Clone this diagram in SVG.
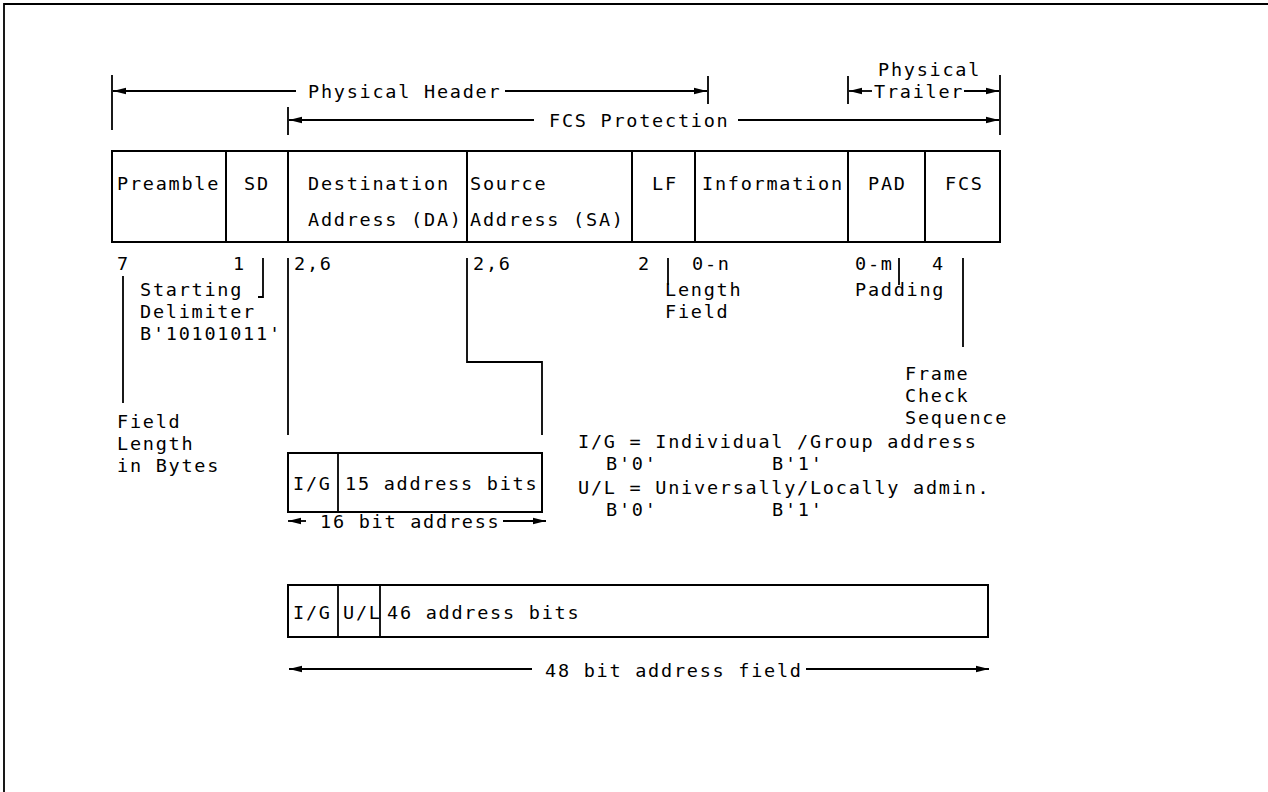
<svg xmlns="http://www.w3.org/2000/svg" width="1268" height="792" viewBox="0 0 1268 792">
<style>
.t{font-family:"DejaVu Sans Mono","Liberation Mono",monospace;font-size:18.5px;letter-spacing:1.75px;fill:#000}
.ln{stroke:#000;stroke-width:1.8;fill:none}
.bx{stroke:#000;stroke-width:2;fill:#fff}
.ar{stroke:#000;stroke-width:1.8;fill:none;marker-end:url(#ah)}
</style>
<defs>
<marker id="ah" markerUnits="userSpaceOnUse" markerWidth="14" markerHeight="8" refX="13" refY="4" orient="auto">
<path d="M0,0.8 L13,4 L0,7.2 z" fill="#000"/>
</marker>
</defs>
<rect width="1268" height="792" fill="#fff"/>
<path class="ln" d="M4,792 V4 H1268" stroke-width="2.2"/>

<g id="connectors">
<line class="ln" x1="112" y1="75" x2="112" y2="130"/>
<line class="ar" x1="296" y1="91" x2="113" y2="91"/>
<line class="ar" x1="505" y1="91" x2="707" y2="91"/>
<line class="ln" x1="708" y1="76" x2="708" y2="104"/>
<line class="ln" x1="288" y1="107" x2="288" y2="135"/>
<line class="ar" x1="534" y1="120" x2="289" y2="120"/>
<line class="ar" x1="738" y1="120" x2="999" y2="120"/>
<line class="ln" x1="848" y1="76" x2="848" y2="104"/>
<line class="ar" x1="872" y1="91" x2="849" y2="91"/>
<line class="ar" x1="964" y1="91" x2="999" y2="91"/>
<line class="ln" x1="1000" y1="75" x2="1000" y2="135"/>
<line class="ln" x1="123" y1="276" x2="123" y2="403"/>
<path class="ln" d="M263,258 V297 H258"/>
<line class="ln" x1="288" y1="258" x2="288" y2="435"/>
<path class="ln" d="M467,258 V362 H542 V435"/>
<line class="ln" x1="668" y1="258" x2="668" y2="285"/>
<line class="ln" x1="899" y1="258" x2="899" y2="285"/>
<line class="ln" x1="963" y1="258" x2="963" y2="347"/>
<line class="ar" x1="306" y1="521" x2="288" y2="521"/>
<line class="ar" x1="503" y1="521" x2="546" y2="521"/>
<line class="ar" x1="532" y1="669" x2="289" y2="669"/>
<line class="ar" x1="806" y1="669" x2="989" y2="669"/>
</g>

<g id="labels-top">
<text class="t" x="878" y="76">Physical</text>
<text class="t" x="308" y="98">Physical Header</text>
<text class="t" x="549" y="127">FCS Protection</text>
<text class="t" x="874" y="98">Trailer</text>
</g>

<g id="frame">
<g id="preamble"><rect class="bx" x="112" y="151" width="114" height="91"/><text class="t" x="117" y="190">Preamble</text></g>
<g id="sd"><rect class="bx" x="226" y="151" width="62" height="91"/><text class="t" x="244" y="190">SD</text></g>
<g id="da"><rect class="bx" x="288" y="151" width="179" height="91"/><text class="t" x="308" y="190">Destination</text><text class="t" x="308" y="226">Address (DA)</text></g>
<g id="sa"><rect class="bx" x="467" y="151" width="165" height="91"/><text class="t" x="470" y="190">Source</text><text class="t" x="470" y="226">Address (SA)</text></g>
<g id="lf"><rect class="bx" x="632" y="151" width="63" height="91"/><text class="t" x="652" y="190">LF</text></g>
<g id="info"><rect class="bx" x="695" y="151" width="153" height="91"/><text class="t" x="702" y="190">Information</text></g>
<g id="pad"><rect class="bx" x="848" y="151" width="77" height="91"/><text class="t" x="868" y="190">PAD</text></g>
<g id="fcs"><rect class="bx" x="925" y="151" width="75" height="91"/><text class="t" x="945" y="190">FCS</text></g>
</g>

<g id="annotations">
<text class="t" x="117" y="270">7</text>
<text class="t" x="233" y="270">1</text>
<text class="t" x="294" y="270">2,6</text>
<text class="t" x="473" y="270">2,6</text>
<text class="t" x="638" y="270">2</text>
<text class="t" x="692" y="270">0-n</text>
<text class="t" x="855" y="270">0-m</text>
<text class="t" x="932" y="270">4</text>
<text class="t" x="140" y="296">Starting</text>
<text class="t" x="140" y="318">Delimiter</text>
<text class="t" x="140" y="340">B'10101011'</text>
<text class="t" x="665" y="296">Length</text>
<text class="t" x="665" y="318">Field</text>
<text class="t" x="855" y="296">Padding</text>
<text class="t" x="905" y="380">Frame</text>
<text class="t" x="905" y="402">Check</text>
<text class="t" x="905" y="424">Sequence</text>
<text class="t" x="117" y="428">Field</text>
<text class="t" x="117" y="450">Length</text>
<text class="t" x="117" y="472">in Bytes</text>
</g>

<g id="legend">
<text class="t" x="578" y="448">I/G = Individual /Group address</text>
<text class="t" x="606" y="470">B'0'</text>
<text class="t" x="772" y="470">B'1'</text>
<text class="t" x="578" y="494">U/L = Universally/Locally admin.</text>
<text class="t" x="606" y="516">B'0'</text>
<text class="t" x="772" y="516">B'1'</text>
</g>

<g id="addr16">
<rect class="bx" x="288" y="453" width="254" height="59"/>
<line class="ln" x1="338" y1="453" x2="338" y2="512"/>
<text class="t" x="293" y="490">I/G</text>
<text class="t" x="345" y="490">15 address bits</text>
<text class="t" x="320" y="528">16 bit address</text>
</g>

<g id="addr48">
<rect class="bx" x="288" y="585" width="700" height="52"/>
<line class="ln" x1="338" y1="585" x2="338" y2="637"/>
<line class="ln" x1="380" y1="585" x2="380" y2="637"/>
<text class="t" x="293" y="619">I/G</text>
<text class="t" x="343" y="619">U/L</text>
<text class="t" x="387" y="619">46 address bits</text>
<text class="t" x="545" y="677">48 bit address field</text>
</g>
</svg>
